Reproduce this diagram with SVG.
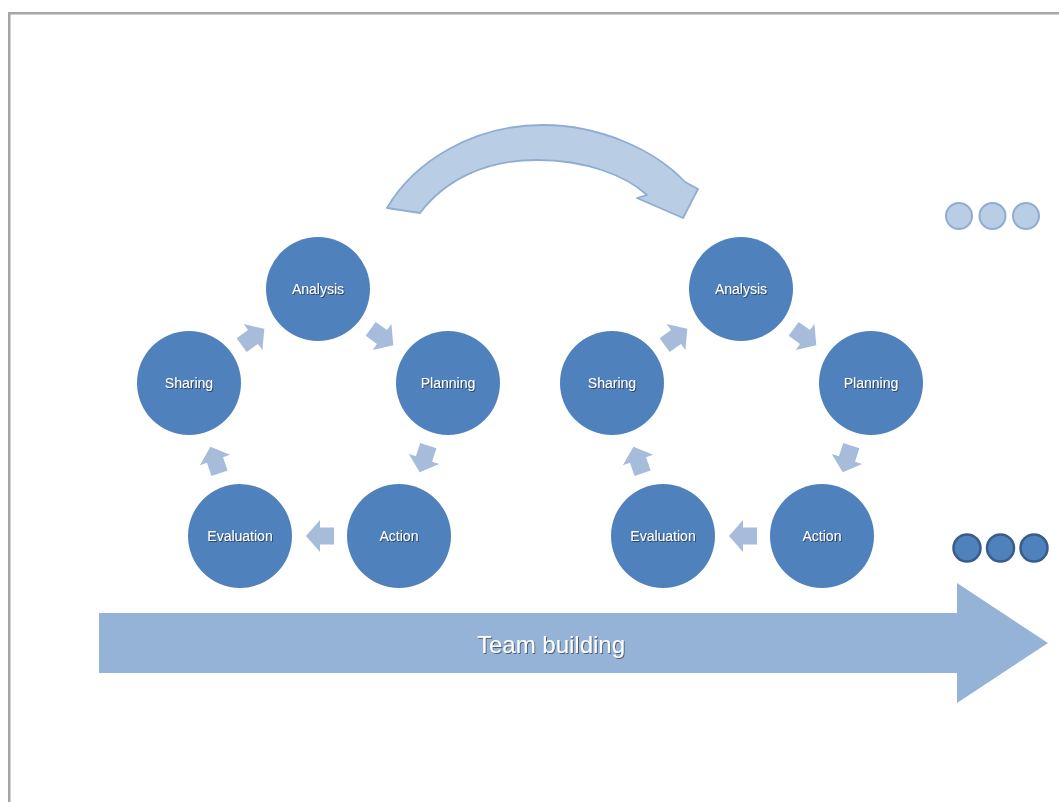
<svg xmlns="http://www.w3.org/2000/svg" xmlns:xlink="http://www.w3.org/1999/xlink" width="1059" height="802" viewBox="0 0 1059 802">
  <style>
    .node { fill: #4f81bd; }
    .lbl { font-family: "Liberation Sans", Arial, sans-serif; font-size: 14px; fill: #ffffff; text-anchor: middle; filter: url(#sh); }
    .small { fill: #a7bbdb; }
    .light { fill: #b9cde5; stroke: #8fadd3; stroke-width: 2; }
    .dark { fill: #4f81bd; stroke: #385d8a; stroke-width: 2.5; }
  </style>
  <defs>
    <filter id="sh" x="-20%" y="-40%" width="140%" height="180%">
      <feDropShadow dx="1" dy="1" stdDeviation="0.5" flood-color="#202020" flood-opacity="0.6"/>
    </filter>
    <path id="sa" d="M-14,-8.5 L0,-8.5 L0,-16 L14,0 L0,16 L0,8.5 L-14,8.5 Z"/>
  </defs>
  <rect width="1059" height="802" fill="#ffffff"/>
  <g id="frame" fill="#a6a6a6">
    <rect x="8" y="12" width="1051" height="2.5"/>
    <rect x="8" y="12" width="2.5" height="790"/>
  </g>

  <g id="connectors">
    <g id="curved-arrow">
      <path d="M387,208 C415,160 475,125 543,125 C600,125 655,150 685,182 L698,189 L683,218 L637,198 L647,195 C625,175 585,160 537,160 C485,160 445,180 420,213 Z" fill="#b9cde5" stroke="#8fadd3" stroke-width="1.8" stroke-linejoin="round"/>
    </g>
    <g id="cycle-arrows-left" class="small">
      <use xlink:href="#sa" transform="translate(253,337) rotate(-36)"/>
      <use xlink:href="#sa" transform="translate(382,337) rotate(36)"/>
      <use xlink:href="#sa" transform="translate(424,459) rotate(108)"/>
      <use xlink:href="#sa" transform="translate(320,536) rotate(180)"/>
      <use xlink:href="#sa" transform="translate(215,460) rotate(-109)"/>
    </g>
    <g id="cycle-arrows-right" class="small">
      <use xlink:href="#sa" transform="translate(676,337) rotate(-36)"/>
      <use xlink:href="#sa" transform="translate(805,337) rotate(36)"/>
      <use xlink:href="#sa" transform="translate(847,459) rotate(108)"/>
      <use xlink:href="#sa" transform="translate(743,536) rotate(180)"/>
      <use xlink:href="#sa" transform="translate(638,460) rotate(-109)"/>
    </g>
  </g>

  <g id="team-building">
    <path d="M99,613 L957,613 L957,583 L1048,643 L957,703 L957,673 L99,673 Z" fill="#95b3d7"/>
    <text x="551" y="653" font-family="'Liberation Sans', Arial, sans-serif" font-size="24" fill="#ffffff" text-anchor="middle" filter="url(#sh)">Team building</text>
  </g>

  <g id="analysis-1"><circle class="node" cx="318" cy="289" r="52"/><text class="lbl" x="318" y="294">Analysis</text></g>
  <g id="planning-1"><circle class="node" cx="448" cy="383" r="52"/><text class="lbl" x="448" y="388">Planning</text></g>
  <g id="action-1"><circle class="node" cx="399" cy="536" r="52"/><text class="lbl" x="399" y="541">Action</text></g>
  <g id="evaluation-1"><circle class="node" cx="240" cy="536" r="52"/><text class="lbl" x="240" y="541">Evaluation</text></g>
  <g id="sharing-1"><circle class="node" cx="189" cy="383" r="52"/><text class="lbl" x="189" y="388">Sharing</text></g>

  <g id="analysis-2"><circle class="node" cx="741" cy="289" r="52"/><text class="lbl" x="741" y="294">Analysis</text></g>
  <g id="planning-2"><circle class="node" cx="871" cy="383" r="52"/><text class="lbl" x="871" y="388">Planning</text></g>
  <g id="action-2"><circle class="node" cx="822" cy="536" r="52"/><text class="lbl" x="822" y="541">Action</text></g>
  <g id="evaluation-2"><circle class="node" cx="663" cy="536" r="52"/><text class="lbl" x="663" y="541">Evaluation</text></g>
  <g id="sharing-2"><circle class="node" cx="612" cy="383" r="52"/><text class="lbl" x="612" y="388">Sharing</text></g>

  <g id="dots-top">
    <circle class="light" cx="959" cy="216" r="13"/>
    <circle class="light" cx="992.5" cy="216" r="13"/>
    <circle class="light" cx="1026" cy="216" r="13"/>
  </g>
  <g id="dots-bottom">
    <circle class="dark" cx="967" cy="548" r="13.5"/>
    <circle class="dark" cx="1000.5" cy="548" r="13.5"/>
    <circle class="dark" cx="1034" cy="548" r="13.5"/>
  </g>
</svg>
